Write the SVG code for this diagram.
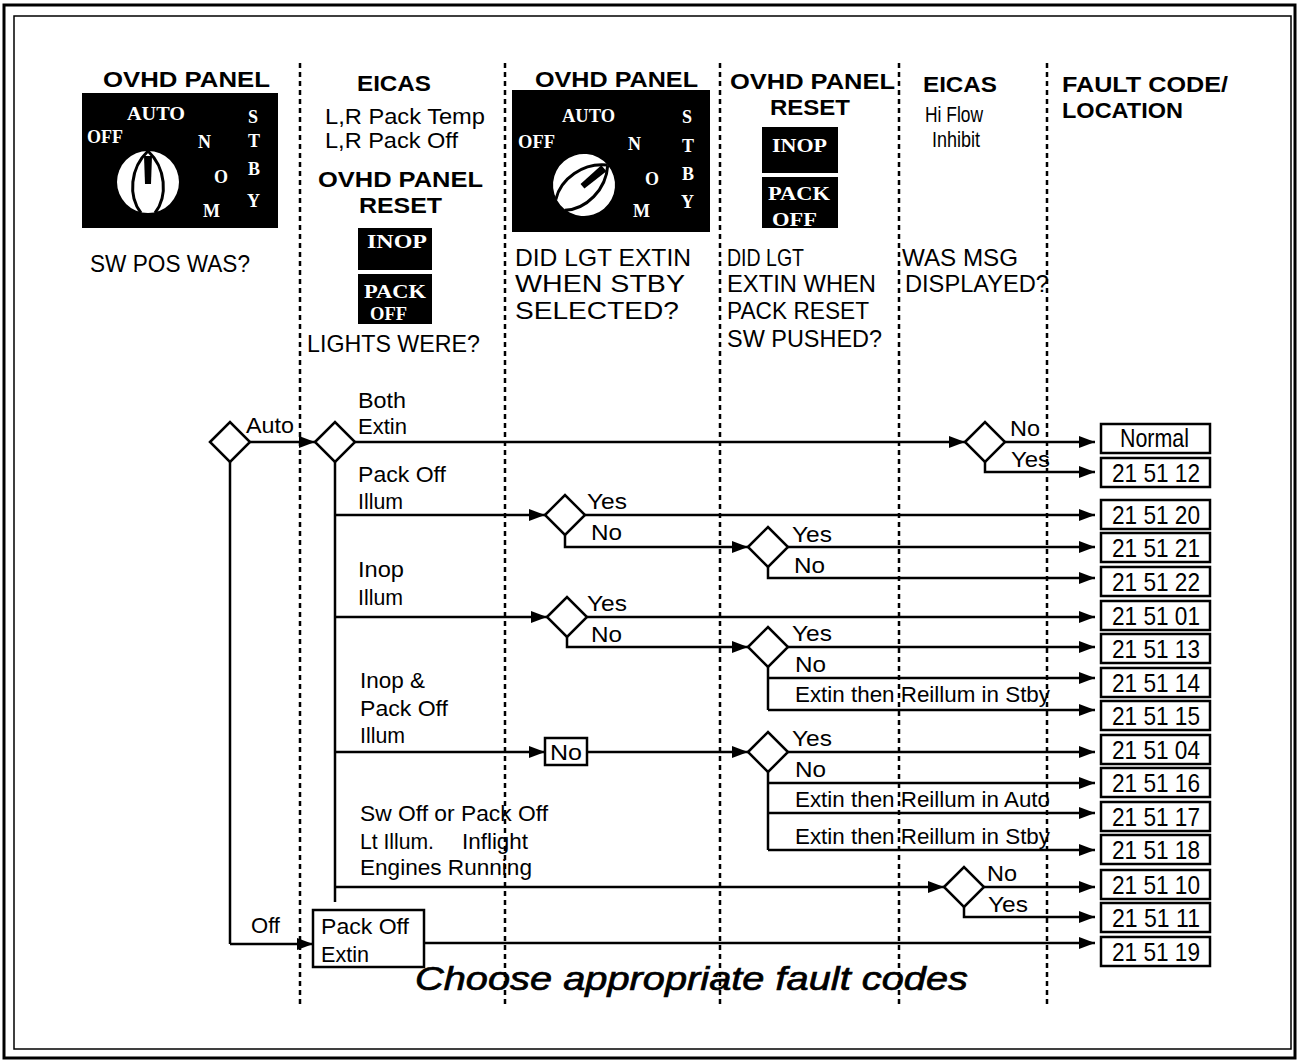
<svg xmlns="http://www.w3.org/2000/svg" xmlns:xlink="http://www.w3.org/1999/xlink" width="1299" height="1064" viewBox="0 0 1299 1064">
<style>
.hb{font-family:"Liberation Sans",Arial,sans-serif;font-weight:bold;font-size:22px;fill:#000}
.q{font-family:"Liberation Sans",Arial,sans-serif;font-size:24px;fill:#000}
.t{font-family:"Liberation Sans",Arial,sans-serif;font-size:22px;fill:#000}
.c{font-family:"Liberation Sans",Arial,sans-serif;font-size:26px;fill:#000}
.w{font-family:"Liberation Serif","Times New Roman",serif;font-weight:bold;font-size:18px;fill:#fff}
.it{font-family:"Liberation Sans",Arial,sans-serif;font-style:italic;font-size:34px;fill:#000;stroke:#000;stroke-width:0.7}
.sep{stroke:#000;stroke-width:2.5;stroke-dasharray:5 4;fill:none}
.ln{stroke:#000;stroke-width:2.5;fill:none}
.ar{stroke:#000;stroke-width:2.5;fill:none;marker-end:url(#ah)}
.dia{fill:#fff;stroke:#000;stroke-width:2.5}
.box{fill:#fff;stroke:#000;stroke-width:2.5}
.blk{fill:#000}
</style>
<defs>
<marker id="ah" markerWidth="16" markerHeight="12" refX="16" refY="6" orient="auto" markerUnits="userSpaceOnUse">
<path d="M0,0 L16,6 L0,12 Z" fill="#000"/>
</marker>
<g id="knob">
<circle cx="0" cy="0" r="31" fill="#fff"/>
<path d="M0,-31 C-18,-14 -20,14 -7,31 M0,-31 C18,-14 20,14 7,31" stroke="#000" stroke-width="3" fill="none"/>
<path d="M-4,-26 L4,-26 L3,2 L-3,2 Z" fill="#000"/>
</g>
</defs>
<rect x="0" y="0" width="1299" height="1064" fill="#fff"/>
<g id="frame">
<rect x="4" y="5" width="1291" height="1053" fill="none" stroke="#000" stroke-width="3"/>
<rect x="14" y="16" width="1277" height="1033" fill="none" stroke="#000" stroke-width="1.5"/>
</g>
<g id="separators">
<line class="sep" x1="300" y1="63" x2="300" y2="1008"/>
<line class="sep" x1="505" y1="63" x2="505" y2="1008"/>
<line class="sep" x1="720" y1="63" x2="720" y2="1008"/>
<line class="sep" x1="899" y1="63" x2="899" y2="1008"/>
<line class="sep" x1="1047" y1="63" x2="1047" y2="1008"/>
</g>
<g id="col1-header">
<text class="hb" x="103" y="87" textLength="167" lengthAdjust="spacingAndGlyphs">OVHD PANEL</text>
<rect class="blk" x="82" y="93" width="196" height="135"/>
<use xlink:href="#knob" href="#knob" transform="translate(148,182)"/>
<text class="w" x="127" y="120" textLength="58" lengthAdjust="spacingAndGlyphs">AUTO</text>
<text class="w" x="87" y="143" textLength="36" lengthAdjust="spacingAndGlyphs">OFF</text>
<text class="w" x="198" y="148">N</text>
<text class="w" x="214" y="183">O</text>
<text class="w" x="203" y="217">M</text>
<text class="w" x="248" y="123">S</text>
<text class="w" x="248" y="147">T</text>
<text class="w" x="248" y="175">B</text>
<text class="w" x="247" y="207">Y</text>
<text class="q" x="90" y="272" textLength="160" lengthAdjust="spacingAndGlyphs">SW POS WAS?</text>
</g>
<g id="col2-header">
<text class="hb" x="357" y="91" textLength="74" lengthAdjust="spacingAndGlyphs">EICAS</text>
<text class="t" x="325" y="124" textLength="160" lengthAdjust="spacingAndGlyphs">L,R Pack Temp</text>
<text class="t" x="325" y="148" textLength="133" lengthAdjust="spacingAndGlyphs">L,R Pack Off</text>
<text class="hb" x="318" y="187" textLength="165" lengthAdjust="spacingAndGlyphs">OVHD PANEL</text>
<text class="hb" x="359" y="213" textLength="83" lengthAdjust="spacingAndGlyphs">RESET</text>
<rect class="blk" x="358" y="228" width="74" height="42"/>
<rect class="blk" x="358" y="274" width="74" height="50"/>
<text class="w" x="367" y="248" textLength="60" lengthAdjust="spacingAndGlyphs">INOP</text>
<text class="w" x="364" y="298" textLength="62" lengthAdjust="spacingAndGlyphs">PACK</text>
<text class="w" x="370" y="320" textLength="37" lengthAdjust="spacingAndGlyphs">OFF</text>
<text class="q" x="307" y="352" textLength="173" lengthAdjust="spacingAndGlyphs">LIGHTS WERE?</text>
</g>
<g id="col3-header">
<text class="hb" x="535" y="87" textLength="163" lengthAdjust="spacingAndGlyphs">OVHD PANEL</text>
<rect class="blk" x="512" y="90" width="198" height="142"/>
<use xlink:href="#knob" href="#knob" transform="translate(584,185) rotate(50)"/>
<text class="w" x="562" y="122" textLength="53" lengthAdjust="spacingAndGlyphs">AUTO</text>
<text class="w" x="518" y="148" textLength="37" lengthAdjust="spacingAndGlyphs">OFF</text>
<text class="w" x="628" y="150">N</text>
<text class="w" x="645" y="185">O</text>
<text class="w" x="633" y="217">M</text>
<text class="w" x="682" y="123">S</text>
<text class="w" x="682" y="152">T</text>
<text class="w" x="682" y="180">B</text>
<text class="w" x="681" y="208">Y</text>
<text class="q" x="515" y="266" textLength="176" lengthAdjust="spacingAndGlyphs">DID LGT EXTIN</text>
<text class="q" x="515" y="292" textLength="170" lengthAdjust="spacingAndGlyphs">WHEN STBY</text>
<text class="q" x="515" y="319" textLength="164" lengthAdjust="spacingAndGlyphs">SELECTED?</text>
</g>
<g id="col4-header">
<text class="hb" x="730" y="89" textLength="165" lengthAdjust="spacingAndGlyphs">OVHD PANEL</text>
<text class="hb" x="770" y="115" textLength="80" lengthAdjust="spacingAndGlyphs">RESET</text>
<rect class="blk" x="762" y="127" width="76" height="46"/>
<rect class="blk" x="762" y="177" width="76" height="51"/>
<text class="w" x="772" y="152" textLength="55" lengthAdjust="spacingAndGlyphs">INOP</text>
<text class="w" x="768" y="200" textLength="62" lengthAdjust="spacingAndGlyphs">PACK</text>
<text class="w" x="772" y="226" textLength="45" lengthAdjust="spacingAndGlyphs">OFF</text>
<text class="q" x="727" y="266" textLength="77" lengthAdjust="spacingAndGlyphs">DID LGT</text>
<text class="q" x="727" y="292" textLength="149" lengthAdjust="spacingAndGlyphs">EXTIN WHEN</text>
<text class="q" x="727" y="319" textLength="142" lengthAdjust="spacingAndGlyphs">PACK RESET</text>
<text class="q" x="727" y="347" textLength="155" lengthAdjust="spacingAndGlyphs">SW PUSHED?</text>
</g>
<g id="col5-header">
<text class="hb" x="923" y="92" textLength="74" lengthAdjust="spacingAndGlyphs">EICAS</text>
<text class="t" x="925" y="122" textLength="58" lengthAdjust="spacingAndGlyphs">Hi Flow</text>
<text class="t" x="932" y="147" textLength="48" lengthAdjust="spacingAndGlyphs">Inhibit</text>
<text class="q" x="902" y="266" textLength="116" lengthAdjust="spacingAndGlyphs">WAS MSG</text>
<text class="q" x="905" y="292" textLength="144" lengthAdjust="spacingAndGlyphs">DISPLAYED?</text>
</g>
<g id="col6-header">
<text class="hb" x="1062" y="92" textLength="166" lengthAdjust="spacingAndGlyphs">FAULT CODE/</text>
<text class="hb" x="1062" y="118" textLength="121" lengthAdjust="spacingAndGlyphs">LOCATION</text>
</g>
<g id="connectors">
<path class="ar" d="M250,442 H315"/>
<path class="ln" d="M230,462 V944"/>
<path class="ar" d="M230,944 H313"/>
<path class="ar" d="M355,442 H965"/>
<path class="ln" d="M335,462 V902"/>
<path class="ar" d="M1005,442 H1095"/>
<path class="ar" d="M985,462 V472 H1095"/>
<path class="ar" d="M335,515 H545"/>
<path class="ar" d="M585,515 H1095"/>
<path class="ar" d="M565,535 V547 H748"/>
<path class="ar" d="M788,547 H1095"/>
<path class="ar" d="M768,567 V578 H1095"/>
<path class="ar" d="M335,617 H547"/>
<path class="ar" d="M587,617 H1095"/>
<path class="ar" d="M567,637 V647 H748"/>
<path class="ar" d="M788,647 H1095"/>
<path class="ln" d="M768,667 V710"/>
<path class="ar" d="M768,678 H1095"/>
<path class="ar" d="M768,710 H1095"/>
<path class="ar" d="M335,752 H545"/>
<path class="ar" d="M587,752 H748"/>
<path class="ar" d="M788,752 H1095"/>
<path class="ln" d="M768,772 V850"/>
<path class="ar" d="M768,783 H1095"/>
<path class="ar" d="M768,813 H1095"/>
<path class="ar" d="M768,850 H1095"/>
<path class="ar" d="M335,887 H944"/>
<path class="ar" d="M984,887 H1095"/>
<path class="ar" d="M964,907 V917 H1095"/>
<path class="ar" d="M424,943 H1095"/>
</g>
<g id="labels">
<text class="t" x="246" y="433" textLength="48" lengthAdjust="spacingAndGlyphs">Auto</text>
<text class="t" x="251" y="933" textLength="29" lengthAdjust="spacingAndGlyphs">Off</text>
<text class="t" x="358" y="408" textLength="48" lengthAdjust="spacingAndGlyphs">Both</text>
<text class="t" x="358" y="434" textLength="49" lengthAdjust="spacingAndGlyphs">Extin</text>
<text class="t" x="358" y="482" textLength="88" lengthAdjust="spacingAndGlyphs">Pack Off</text>
<text class="t" x="358" y="509" textLength="45" lengthAdjust="spacingAndGlyphs">Illum</text>
<text class="t" x="358" y="577" textLength="46" lengthAdjust="spacingAndGlyphs">Inop</text>
<text class="t" x="358" y="605" textLength="45" lengthAdjust="spacingAndGlyphs">Illum</text>
<text class="t" x="360" y="688" textLength="65" lengthAdjust="spacingAndGlyphs">Inop &amp;</text>
<text class="t" x="360" y="716" textLength="88" lengthAdjust="spacingAndGlyphs">Pack Off</text>
<text class="t" x="360" y="743" textLength="45" lengthAdjust="spacingAndGlyphs">Illum</text>
<text class="t" x="360" y="821" textLength="188" lengthAdjust="spacingAndGlyphs">Sw Off or Pack Off</text>
<text class="t" x="360" y="849" textLength="74" lengthAdjust="spacingAndGlyphs">Lt Illum.</text>
<text class="t" x="462" y="849" textLength="66" lengthAdjust="spacingAndGlyphs">Inflight</text>
<text class="t" x="360" y="875" textLength="172" lengthAdjust="spacingAndGlyphs">Engines Running</text>
<text class="t" x="587" y="509" textLength="40" lengthAdjust="spacingAndGlyphs">Yes</text>
<text class="t" x="591" y="540" textLength="31" lengthAdjust="spacingAndGlyphs">No</text>
<text class="t" x="792" y="542" textLength="40" lengthAdjust="spacingAndGlyphs">Yes</text>
<text class="t" x="794" y="573" textLength="31" lengthAdjust="spacingAndGlyphs">No</text>
<text class="t" x="587" y="611" textLength="40" lengthAdjust="spacingAndGlyphs">Yes</text>
<text class="t" x="591" y="642" textLength="31" lengthAdjust="spacingAndGlyphs">No</text>
<text class="t" x="792" y="641" textLength="40" lengthAdjust="spacingAndGlyphs">Yes</text>
<text class="t" x="795" y="672" textLength="31" lengthAdjust="spacingAndGlyphs">No</text>
<text class="t" x="795" y="702" textLength="255" lengthAdjust="spacingAndGlyphs">Extin then Reillum in Stby</text>
<text class="t" x="792" y="746" textLength="40" lengthAdjust="spacingAndGlyphs">Yes</text>
<text class="t" x="795" y="777" textLength="31" lengthAdjust="spacingAndGlyphs">No</text>
<text class="t" x="795" y="807" textLength="255" lengthAdjust="spacingAndGlyphs">Extin then Reillum in Auto</text>
<text class="t" x="795" y="844" textLength="255" lengthAdjust="spacingAndGlyphs">Extin then Reillum in Stby</text>
<text class="t" x="1010" y="436" textLength="30" lengthAdjust="spacingAndGlyphs">No</text>
<text class="t" x="1011" y="467" textLength="39" lengthAdjust="spacingAndGlyphs">Yes</text>
<text class="t" x="987" y="881" textLength="30" lengthAdjust="spacingAndGlyphs">No</text>
<text class="t" x="988" y="912" textLength="40" lengthAdjust="spacingAndGlyphs">Yes</text>
</g>
<g id="d-swpos"><polygon class="dia" points="210,442 230,422 250,442 230,462"/></g>
<g id="d-lights"><polygon class="dia" points="315,442 335,422 355,442 335,462"/></g>
<g id="d-stby1"><polygon class="dia" points="545,515 565,495 585,515 565,535"/></g>
<g id="d-reset1"><polygon class="dia" points="748,547 768,527 788,547 768,567"/></g>
<g id="d-stby2"><polygon class="dia" points="547,617 567,597 587,617 567,637"/></g>
<g id="d-reset2"><polygon class="dia" points="748,647 768,627 788,647 768,667"/></g>
<g id="n-no"><rect class="box" x="545" y="738" width="42" height="27"/><text class="t" x="550" y="760" textLength="32" lengthAdjust="spacingAndGlyphs">No</text></g>
<g id="d-reset3"><polygon class="dia" points="748,752 768,732 788,752 768,772"/></g>
<g id="d-hiflow1"><polygon class="dia" points="965,442 985,422 1005,442 985,462"/></g>
<g id="d-hiflow2"><polygon class="dia" points="944,887 964,867 984,887 964,907"/></g>
<g id="n-packoff-extin"><rect class="box" x="313" y="910" width="111" height="57"/><text class="t" x="321" y="934" textLength="88" lengthAdjust="spacingAndGlyphs">Pack Off</text><text class="t" x="321" y="962" textLength="48" lengthAdjust="spacingAndGlyphs">Extin</text></g>
<g id="fc-normal"><rect class="box" x="1101" y="424" width="109" height="29"/><text class="c" x="1120" y="447" textLength="69" lengthAdjust="spacingAndGlyphs">Normal</text></g>
<g id="fc-215112"><rect class="box" x="1101" y="458" width="109" height="29"/><text class="c" x="1112" y="482" textLength="88" lengthAdjust="spacingAndGlyphs">21 51 12</text></g>
<g id="fc-215120"><rect class="box" x="1101" y="500" width="109" height="29"/><text class="c" x="1112" y="524" textLength="88" lengthAdjust="spacingAndGlyphs">21 51 20</text></g>
<g id="fc-215121"><rect class="box" x="1101" y="533" width="109" height="29"/><text class="c" x="1112" y="557" textLength="88" lengthAdjust="spacingAndGlyphs">21 51 21</text></g>
<g id="fc-215122"><rect class="box" x="1101" y="567" width="109" height="29"/><text class="c" x="1112" y="591" textLength="88" lengthAdjust="spacingAndGlyphs">21 51 22</text></g>
<g id="fc-215101"><rect class="box" x="1101" y="601" width="109" height="29"/><text class="c" x="1112" y="625" textLength="88" lengthAdjust="spacingAndGlyphs">21 51 01</text></g>
<g id="fc-215113"><rect class="box" x="1101" y="634" width="109" height="29"/><text class="c" x="1112" y="658" textLength="88" lengthAdjust="spacingAndGlyphs">21 51 13</text></g>
<g id="fc-215114"><rect class="box" x="1101" y="668" width="109" height="29"/><text class="c" x="1112" y="692" textLength="88" lengthAdjust="spacingAndGlyphs">21 51 14</text></g>
<g id="fc-215115"><rect class="box" x="1101" y="701" width="109" height="29"/><text class="c" x="1112" y="725" textLength="88" lengthAdjust="spacingAndGlyphs">21 51 15</text></g>
<g id="fc-215104"><rect class="box" x="1101" y="735" width="109" height="29"/><text class="c" x="1112" y="759" textLength="88" lengthAdjust="spacingAndGlyphs">21 51 04</text></g>
<g id="fc-215116"><rect class="box" x="1101" y="768" width="109" height="29"/><text class="c" x="1112" y="792" textLength="88" lengthAdjust="spacingAndGlyphs">21 51 16</text></g>
<g id="fc-215117"><rect class="box" x="1101" y="802" width="109" height="29"/><text class="c" x="1112" y="826" textLength="88" lengthAdjust="spacingAndGlyphs">21 51 17</text></g>
<g id="fc-215118"><rect class="box" x="1101" y="835" width="109" height="29"/><text class="c" x="1112" y="859" textLength="88" lengthAdjust="spacingAndGlyphs">21 51 18</text></g>
<g id="fc-215110"><rect class="box" x="1101" y="870" width="109" height="29"/><text class="c" x="1112" y="894" textLength="88" lengthAdjust="spacingAndGlyphs">21 51 10</text></g>
<g id="fc-215111"><rect class="box" x="1101" y="903" width="109" height="29"/><text class="c" x="1112" y="927" textLength="88" lengthAdjust="spacingAndGlyphs">21 51 11</text></g>
<g id="fc-215119"><rect class="box" x="1101" y="937" width="109" height="29"/><text class="c" x="1112" y="961" textLength="88" lengthAdjust="spacingAndGlyphs">21 51 19</text></g>
<g id="footer">
<text class="it" x="415" y="990" textLength="553" lengthAdjust="spacingAndGlyphs">Choose appropriate fault codes</text>
</g>
</svg>
